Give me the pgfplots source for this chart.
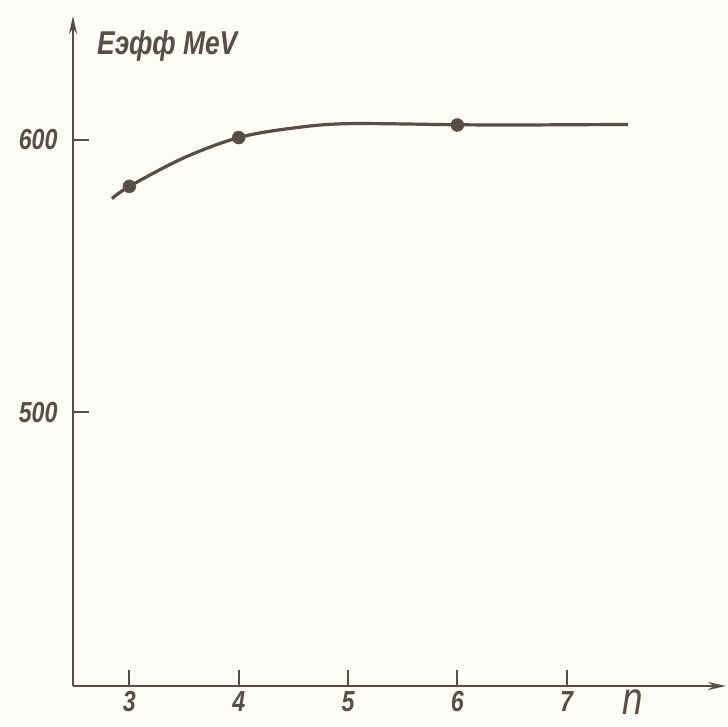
\documentclass[border=0pt]{standalone}
\usepackage{pgfplots}
\pgfplotsset{compat=1.18}
\usetikzlibrary{arrows.meta}
\usepackage{fontspec}
\setmainfont{Liberation Sans}[FakeStretch=0.8]
\definecolor{ink}{RGB}{88,78,68}
\definecolor{paper}{RGB}{253,252,246}
\begin{document}
\begin{tikzpicture}[x=1pt,y=1pt]
\fill[paper] (0,0) rectangle (728,726);
\useasboundingbox (0,0) rectangle (728,726);
\begin{axis}[at={(73pt,40pt)}, anchor=south west, scale only axis,
  width=653pt, height=670pt,
  xmin=2.484, xmax=8.458, ymin=399.6, ymax=645.4,
  axis lines=left,
  axis line style={ink, line width=2.4pt, -{Stealth[length=18pt,width=8pt]}},
  xtick={3,4,5,6,7}, ytick={500,600},
  tick align=inside, major tick length=16pt,
  tick style={ink, line width=2pt},
  /pgf/number format/assume math mode=true,
  ticklabel style={font=\fontsize{29}{31}\selectfont\bfseries\itshape, text=ink},
  xticklabel style={yshift=-2pt},
  yticklabel style={xshift=-12pt},
  clip=false]
\addplot[ink, line width=3.2pt, smooth, tension=0.55] coordinates {
  (2.84,578.4) (3,582.9) (3.5,593.4) (4,600.8) (4.5,604.3) (5,605.9)
  (6,605.5) (6.5,605.4) (7,605.5) (7.56,605.6)};
\addplot[only marks, mark=*, mark size=6.5pt, ink, fill=ink] coordinates {
  (3,582.9) (4,600.8) (6,605.4)};
\end{axis}
\node[anchor=base west, inner sep=0pt, text=ink, font=\fontsize{33}{35}\selectfont\bfseries\itshape] at (97,671) {Eэфф MeV};
\node[anchor=base west, inner sep=0pt, text=ink, font=\fontsize{46}{48}\selectfont\itshape] at (622,12) {n};
\end{tikzpicture}
\end{document}
